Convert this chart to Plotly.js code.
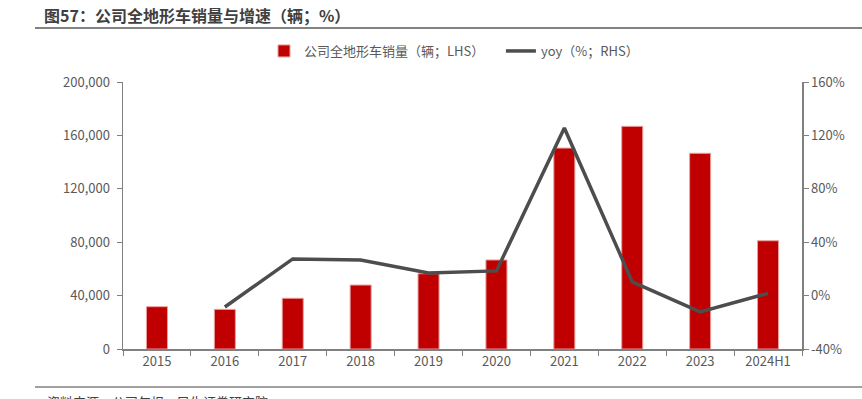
<!DOCTYPE html>
<html>
<head>
<meta charset="utf-8">
<script src="https://cdn.plot.ly/plotly-3.0.1.min.js"></script>
<style>html,body{margin:0;padding:0;background:#fff;}#chart{width:862px;height:399px;}</style>
</head>
<body>
<div id="chart"></div>
<script>
const categories = ['2015','2016','2017','2018','2019','2020','2021','2022','2023','2024H1'];
const sales = [31700, 29700, 38000, 47900, 56400, 66700, 150500, 166800, 146600, 81100];
const yoyCategories = ['2016','2017','2018','2019','2020','2021','2022','2023','2024H1'];
const yoy = [-8.5, 27.5, 26.7, 17.0, 18.5, 125.6, 10.3, -12.2, 1.7];
const leftTicks = [0, 40000, 80000, 120000, 160000, 200000];
const leftTickText = ['0','40,000','80,000','120,000','160,000','200,000'];
const rightTicks = [-40, 0, 40, 80, 120, 160];
const rightTickText = ['-40%','0%','40%','80%','120%','160%'];

const FONT = '"Noto Sans CJK SC", "Noto Sans", sans-serif';
const GRAY = '#595959';

const traces = [
  {
    type: 'bar', x: categories, y: sales, name: '公司全地形车销量（辆；LHS）\u00a0\u00a0\u00a0\u00a0',
    marker: {color: '#C00000', line: {color: '#E8A0A0', width: 1}},
    hoverinfo: 'skip'
  },
  {
    type: 'scatter', mode: 'lines', x: yoyCategories, y: yoy, yaxis: 'y2',
    name: 'yoy（%；RHS）', line: {color: '#4D4D4D', width: 3.5},
    hoverinfo: 'skip'
  }
];

const layout = {
  width: 862, height: 399,
  margin: {l: 123, r: 60, t: 82, b: 50},
  paper_bgcolor: '#fff', plot_bgcolor: '#fff',
  font: {family: FONT, size: 13, color: GRAY},
  bargap: 0.69,
  showlegend: true,
  title: {
    text: '<b>图57：公司全地形车销量与增速（辆；%）</b>',
    font: {family: FONT, size: 16, color: '#404040'},
    xref: 'container', yref: 'container',
    x: 44/862, xanchor: 'left', y: 1 - 16/399, yanchor: 'middle'
  },
  legend: {
    orientation: 'h', xref: 'container', yref: 'container',
    x: 454/862, xanchor: 'center', y: 1 - 51/399, yanchor: 'middle',
    font: {family: FONT, size: 13, color: GRAY},
    itemwidth: 30, tracegroupgap: 0, traceorder: 'normal'
  },
  xaxis: {
    type: 'category', categoryorder: 'array', categoryarray: categories,
    showline: true, linecolor: '#808080', linewidth: 1.5,
    ticks: 'outside', tickson: 'boundaries', ticklen: 5, tickcolor: '#808080',
    showgrid: false, zeroline: false,
    tickfont: {family: FONT, size: 13, color: GRAY}
  },
  yaxis: {
    range: [0, 200000], tickvals: leftTicks, ticktext: leftTickText,
    showline: true, linecolor: '#808080', linewidth: 1.5,
    ticks: 'outside', ticklen: 5, tickcolor: '#808080',
    showgrid: false, zeroline: false, ticklabelstandoff: 4,
    tickfont: {family: FONT, size: 13, color: GRAY}
  },
  yaxis2: {
    overlaying: 'y', side: 'right', range: [-40, 160],
    tickvals: rightTicks, ticktext: rightTickText,
    showline: true, linecolor: '#808080', linewidth: 1.5,
    ticks: 'outside', ticklen: 5, tickcolor: '#808080',
    showgrid: false, zeroline: false,
    tickfont: {family: FONT, size: 13, color: GRAY}
  },
  shapes: [
    {type: 'line', xref: 'paper', yref: 'paper', x0: -0.1296, x1: 1.09, y0: 1.2022, y1: 1.2022,
     line: {color: '#595959', width: 1.5}},
    {type: 'line', xref: 'paper', yref: 'paper', x0: -0.1296, x1: 1.09, y0: -0.1423, y1: -0.1423,
     line: {color: '#808080', width: 1.5}}
  ],
  annotations: [
    {text: '资料来源：公司年报，民生证券研究院', xref: 'paper', yref: 'paper',
     x: -0.115, xanchor: 'left', y: -0.155, yanchor: 'top', showarrow: false,
     font: {family: FONT, size: 13, color: '#404040'}}
  ]
};

Plotly.newPlot('chart', traces, layout, {displayModeBar: false, staticPlot: true});
</script>
</body>
</html>
